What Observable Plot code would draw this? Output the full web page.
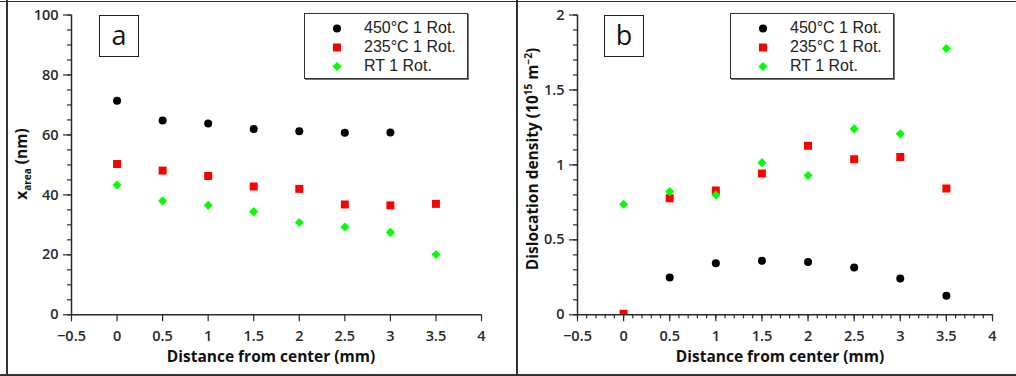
<!DOCTYPE html>
<html><head><meta charset="utf-8">
<script src="https://cdn.jsdelivr.net/npm/d3@7"></script>
<script src="https://cdn.jsdelivr.net/npm/@observablehq/plot@0.6"></script>
<style>
body{margin:0;background:#fff;font-family:"Open Sans",sans-serif;}
#wrap{position:relative;width:1016px;height:376px;overflow:hidden;background:#fff;}
.line{position:absolute;background:#333;}
.panel{position:absolute;top:2px;}
.lbl{position:absolute;font-weight:700;font-size:15.5px;color:#111;white-space:nowrap;transform:translate(-50%,-50%);}
.lbl.rot{transform:translate(-50%,-50%) rotate(-90deg);}
.lbl sub,.lbl sup{font-size:10px;}
.tag{position:absolute;width:38px;height:40px;border:1.5px solid #222;font-size:27px;line-height:38px;text-align:center;color:#111;}
.legend{position:absolute;width:162px;height:64px;border:1px solid #333;box-shadow:1px 1px 0 #777;background:#fff;}
.row{position:absolute;left:0;height:19px;font-family:"Liberation Sans",Arial,sans-serif;font-size:16px;color:#222;}
.row svg{position:absolute;left:22px;top:0;}
.row span{position:absolute;left:59px;top:0;white-space:nowrap;line-height:18px;}
</style></head><body><div id="wrap"></div>
<script>
// ---- data ----
const distance = [0, 0.5, 1, 1.5, 2, 2.5, 3, 3.5];
const seriesNames = ["450°C 1 Rot.", "235°C 1 Rot.", "RT 1 Rot."];
const seriesColors = ["#000000", "#ff0000", "#00ff00"];
const seriesSymbols = ["circle", "square", "diamond2"];
// panel a: crystallite size x_area (nm)
const xarea450 = [71.4, 64.8, 63.8, 62.0, 61.2, 60.7, 60.8, null];
const xarea235 = [50.3, 48.1, 46.3, 42.8, 42.0, 36.8, 36.5, 37.0];
const xareaRT  = [43.3, 38.0, 36.5, 34.4, 30.8, 29.3, 27.5, 20.1];
// panel b: dislocation density (1e15 m^-2)
const rho450 = [null, 0.249, 0.344, 0.360, 0.353, 0.315, 0.242, 0.127];
const rho235 = [0.007, 0.777, 0.829, 0.942, 1.127, 1.037, 1.053, 0.842];
const rhoRT  = [0.737, 0.822, 0.800, 1.015, 0.929, 1.240, 1.207, 1.777];
// ticks
const xTicks = [-0.5, 0, 0.5, 1, 1.5, 2, 2.5, 3, 3.5, 4];
const xMinorTicksB = d3.range(-5, 41).map(i => i / 10);
const yTicksA = [0, 20, 40, 60, 80, 100];
const yMinorTicksA = d3.range(0, 101, 5);
const yTicksB = [0, 0.5, 1, 1.5, 2];
const yMinorTicksB = d3.range(0, 21).map(i => i / 10);

const wrap = document.getElementById("wrap");
const fmtX = d => d < 0 ? "\u2212" + (-d) : String(d);

function rows(values) {
  const out = [];
  values.forEach((arr, s) => {
    arr.forEach((v, i) => { if (v != null) out.push({x: distance[i], y: v, s}); });
  });
  return out;
}
const symR = [4, 4.5, 4.1];

function panel({left, width, mLeft, mRight, yDomain, yTicks, yMinor, xMinor, data, clip}) {
  const marks = [
    Plot.axisY(yMinor, {tickSize: 4, tickFormat: () => "", label: null, strokeWidth: 1.2}),
    Plot.axisY(yTicks, {tickSize: 8, tickPadding: 5, tickFormat: d => String(d), label: null, strokeWidth: 1.2}),
  ];
  if (xMinor) marks.push(Plot.axisX(xMinor, {tickSize: 4, tickFormat: () => "", label: null, strokeWidth: 1.2}));
  marks.push(
    Plot.axisX(xTicks, {tickSize: 7, tickPadding: 9, tickFormat: fmtX, label: null, strokeWidth: 1.2}),
    Plot.ruleX([-0.5], {strokeWidth: 1.5}),
    Plot.ruleY([0], {strokeWidth: 1.5})
  );
  [0, 1, 2].forEach(s => {
    marks.push(Plot.dot(data.filter(d => d.s === s), {
      x: "x", y: "y", symbol: () => seriesSymbols[s], fill: seriesColors[s], stroke: null,
      r: symR[s], clip: clip ? "frame" : false
    }));
  });
  const svg = Plot.plot({
    width, height: 372,
    marginLeft: mLeft, marginRight: mRight, marginTop: 12.5, marginBottom: 59.7,
    x: {domain: [-0.5, 4]},
    y: {domain: yDomain},
    symbol: {type: "identity"},
    style: {fontFamily: "'Open Sans', sans-serif", fontSize: "14.5px", fontWeight: 600, color: "#2a2a2a", background: "transparent", overflow: "visible"},
    marks
  });
  const div = document.createElement("div");
  div.className = "panel";
  div.style.left = left + "px";
  div.appendChild(svg);
  wrap.appendChild(div);
}

panel({left: 9, width: 507, mLeft: 62, mRight: 35, yDomain: [0, 100], yTicks: yTicksA, yMinor: yMinorTicksA,
  xMinor: null, data: rows([xarea450, xarea235, xareaRT]), clip: false});
panel({left: 518, width: 498, mLeft: 59, mRight: 24, yDomain: [0, 2], yTicks: yTicksB, yMinor: yMinorTicksB,
  xMinor: xMinorTicksB, data: rows([rho450, rho235, rhoRT]), clip: true});

// frame lines
function line(l, t, w, h) { const d = document.createElement("div"); d.className = "line";
  Object.assign(d.style, {left: l + "px", top: t + "px", width: w + "px", height: h + "px"}); wrap.appendChild(d); }
line(6, 0, 2, 376); line(0, 1, 1016, 1); line(0, 374, 1016, 2); line(516, 0, 2, 376);

// labels
function label(html, x, y, rot) { const d = document.createElement("div"); d.className = "lbl" + (rot ? " rot" : "");
  d.innerHTML = html; d.style.left = x + "px"; d.style.top = y + "px"; wrap.appendChild(d); }
label("x<sub>area</sub> (nm)", 22, 164, true);
label("Dislocation density (10<sup>15</sup> m<sup>\u22122</sup>)", 532, 159, true);
label("Distance from center (mm)", 271, 356, false);
label("Distance from center (mm)", 780, 356, false);

function tag(t, x, y) { const d = document.createElement("div"); d.className = "tag"; d.textContent = t;
  d.style.left = x + "px"; d.style.top = y + "px"; wrap.appendChild(d); }
tag("a", 99, 14.5); tag("b", 604, 14.5);

function legend(x, y) {
  const box = document.createElement("div"); box.className = "legend";
  box.style.left = x + "px"; box.style.top = y + "px";
  const types = {circle: d3.symbolCircle, square: d3.symbolSquare, diamond2: d3.symbolDiamond2};
  seriesNames.forEach((name, s) => {
    const row = document.createElement("div"); row.className = "row";
    row.style.top = (5 + s * 19) + "px"; row.style.width = "160px";
    const path = d3.symbol(types[seriesSymbols[s]], Math.PI * symR[s] * symR[s])();
    row.innerHTML = `<svg width="20" height="19" viewBox="-10 -9.5 20 19"><path d="${path}" fill="${seriesColors[s]}"/></svg><span>${name}</span>`;
    box.appendChild(row);
  });
  wrap.appendChild(box);
}
legend(304, 13); legend(730, 13);
</script></body></html>
